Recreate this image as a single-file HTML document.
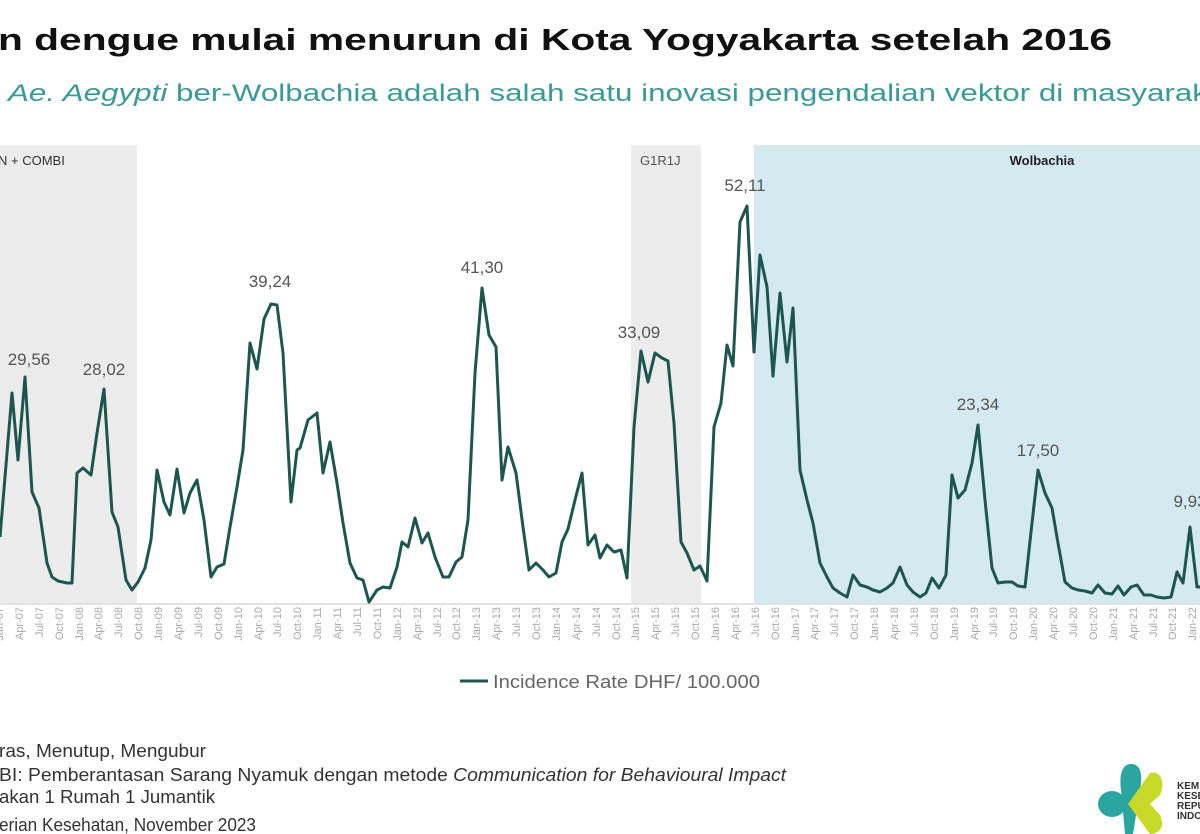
<!DOCTYPE html>
<html><head><meta charset="utf-8"><style>
html,body{margin:0;padding:0;background:#fff;width:1200px;height:834px;overflow:hidden}
svg{display:block;font-family:"Liberation Sans",sans-serif}
</style></head><body>
<svg width="1200" height="834" viewBox="0 0 1200 834" xmlns="http://www.w3.org/2000/svg">
<rect width="1200" height="834" fill="#fff"/>
<text x="-2" y="50" font-size="31" font-weight="bold" fill="#111" textLength="1114" lengthAdjust="spacingAndGlyphs">n dengue mulai menurun di Kota Yogyakarta setelah 2016</text>
<text x="8" y="101" font-size="24" fill="#3a9a98" textLength="1200" lengthAdjust="spacingAndGlyphs"><tspan font-style="italic">Ae. Aegypti</tspan> ber-Wolbachia adalah salah satu inovasi pengendalian vektor di masyarak</text>
<rect x="0" y="145" width="137" height="458" fill="#ececec"/>
<rect x="631" y="145" width="70" height="458" fill="#ececec"/>
<rect x="754" y="145" width="446" height="458" fill="#d5eaf0"/>
<line x1="0" y1="604" x2="1200" y2="604" stroke="#d8d8d8" stroke-width="1.5"/>
<text x="-2" y="165" font-size="13" fill="#333">N + COMBI</text>
<text x="640" y="165" font-size="13" fill="#555">G1R1J</text>
<text x="1042" y="165" font-size="13" font-weight="bold" fill="#222" text-anchor="middle">Wolbachia</text>
<polyline fill="none" stroke="#1d5650" stroke-width="3" stroke-linejoin="round" points="0,537 12,393 18,460 25,377 32,492 39,508 47,563 52,577 58,581 67,583 72,583 77,473 83,468 91,475 97,433 104,389 112,512 118,527 126,580 132,590 138,582 145,568 151,540 157,470 164,502 170,515 177,469 184,513 190,493 197,480 204,520 211,577 217,567 224,564 230,527 237,487 243,450 250,343 257,369 264,319 271,304 277,305 283,353 291,502 297,450 300,448 308,420 317,413 323,473 330,442 337,483 343,523 350,563 357,578 363,580 369,602 377,590 383,587 390,588 397,567 402,542 408,547 415,518 422,543 428,533 435,557 443,577 449,577 456,562 462,557 468,520 475,373 482,288 489,335 496,347 502,480 508,447 516,473 523,527 529,570 536,563 543,570 549,577 556,573 562,542 568,529 575,500 582,473 588,545 595,535 600,558 607,545 614,552 621,550 627,578 634,427 641,351 648,382 655,353 662,358 668,361 674,423 681,542 687,553 694,570 700,566 707,581 714,427 721,403 727,345 733,366 740,222 747,206 754,352 760,255 767,287 773,376 780,293 787,362 793,308 800,470 807,500 813,523 820,563 827,577 833,588 840,593 847,597 853,575 860,585 867,587 873,590 880,592 887,588 893,583 900,567 907,585 913,592 920,597 926,593 932,578 939,588 946,575 952,475 958,498 965,490 972,463 978,425 985,500 992,568 998,583 1005,582 1012,582 1018,586 1025,587 1032,523 1038,470 1045,493 1052,508 1058,543 1065,582 1072,588 1078,590 1085,591 1092,593 1098,585 1105,593 1112,594 1118,586 1124,595 1131,587 1137,585 1144,595 1151,595 1157,597 1164,598 1171,597 1177,572 1183,583 1190,527 1197,587 1200,587"/>
<g font-size="17" fill="#555" text-anchor="middle">
<text x="29" y="365">29,56</text><text x="104" y="375">28,02</text><text x="270" y="287">39,24</text><text x="482" y="273">41,30</text><text x="639" y="338">33,09</text><text x="745" y="191">52,11</text><text x="978" y="410">23,34</text><text x="1038" y="456">17,50</text><text x="1190" y="507">9,93</text>
</g>
<g font-size="11" fill="#a8a8a8" text-anchor="end">
<text transform="translate(3,607) rotate(-90)">Jan-07</text><text transform="translate(23,607) rotate(-90)">Apr-07</text><text transform="translate(43,607) rotate(-90)">Jul-07</text><text transform="translate(63,607) rotate(-90)">Oct-07</text><text transform="translate(83,607) rotate(-90)">Jan-08</text><text transform="translate(102,607) rotate(-90)">Apr-08</text><text transform="translate(122,607) rotate(-90)">Jul-08</text><text transform="translate(142,607) rotate(-90)">Oct-08</text><text transform="translate(162,607) rotate(-90)">Jan-09</text><text transform="translate(182,607) rotate(-90)">Apr-09</text><text transform="translate(202,607) rotate(-90)">Jul-09</text><text transform="translate(222,607) rotate(-90)">Oct-09</text><text transform="translate(242,607) rotate(-90)">Jan-10</text><text transform="translate(262,607) rotate(-90)">Apr-10</text><text transform="translate(281,607) rotate(-90)">Jul-10</text><text transform="translate(301,607) rotate(-90)">Oct-10</text><text transform="translate(321,607) rotate(-90)">Jan-11</text><text transform="translate(341,607) rotate(-90)">Apr-11</text><text transform="translate(361,607) rotate(-90)">Jul-11</text><text transform="translate(381,607) rotate(-90)">Oct-11</text><text transform="translate(401,607) rotate(-90)">Jan-12</text><text transform="translate(421,607) rotate(-90)">Apr-12</text><text transform="translate(441,607) rotate(-90)">Jul-12</text><text transform="translate(460,607) rotate(-90)">Oct-12</text><text transform="translate(480,607) rotate(-90)">Jan-13</text><text transform="translate(500,607) rotate(-90)">Apr-13</text><text transform="translate(520,607) rotate(-90)">Jul-13</text><text transform="translate(540,607) rotate(-90)">Oct-13</text><text transform="translate(560,607) rotate(-90)">Jan-14</text><text transform="translate(580,607) rotate(-90)">Apr-14</text><text transform="translate(600,607) rotate(-90)">Jul-14</text><text transform="translate(620,607) rotate(-90)">Oct-14</text><text transform="translate(639,607) rotate(-90)">Jan-15</text><text transform="translate(659,607) rotate(-90)">Apr-15</text><text transform="translate(679,607) rotate(-90)">Jul-15</text><text transform="translate(699,607) rotate(-90)">Oct-15</text><text transform="translate(719,607) rotate(-90)">Jan-16</text><text transform="translate(739,607) rotate(-90)">Apr-16</text><text transform="translate(759,607) rotate(-90)">Jul-16</text><text transform="translate(779,607) rotate(-90)">Oct-16</text><text transform="translate(799,607) rotate(-90)">Jan-17</text><text transform="translate(818,607) rotate(-90)">Apr-17</text><text transform="translate(838,607) rotate(-90)">Jul-17</text><text transform="translate(858,607) rotate(-90)">Oct-17</text><text transform="translate(878,607) rotate(-90)">Jan-18</text><text transform="translate(898,607) rotate(-90)">Apr-18</text><text transform="translate(918,607) rotate(-90)">Jul-18</text><text transform="translate(938,607) rotate(-90)">Oct-18</text><text transform="translate(958,607) rotate(-90)">Jan-19</text><text transform="translate(978,607) rotate(-90)">Apr-19</text><text transform="translate(997,607) rotate(-90)">Jul-19</text><text transform="translate(1017,607) rotate(-90)">Oct-19</text><text transform="translate(1037,607) rotate(-90)">Jan-20</text><text transform="translate(1057,607) rotate(-90)">Apr-20</text><text transform="translate(1077,607) rotate(-90)">Jul-20</text><text transform="translate(1097,607) rotate(-90)">Oct-20</text><text transform="translate(1117,607) rotate(-90)">Jan-21</text><text transform="translate(1137,607) rotate(-90)">Apr-21</text><text transform="translate(1157,607) rotate(-90)">Jul-21</text><text transform="translate(1176,607) rotate(-90)">Oct-21</text><text transform="translate(1196,607) rotate(-90)">Jan-22</text>
</g>
<line x1="460" y1="681" x2="488" y2="681" stroke="#1d5650" stroke-width="3"/>
<text x="493" y="688" font-size="18" fill="#666" textLength="267" lengthAdjust="spacingAndGlyphs">Incidence Rate DHF/ 100.000</text>
<g font-size="18" fill="#333">
<text x="-1" y="757" textLength="207" lengthAdjust="spacingAndGlyphs">ras, Menutup, Mengubur</text>
<text x="-1" y="781" textLength="787" lengthAdjust="spacingAndGlyphs">BI: Pemberantasan Sarang Nyamuk dengan metode <tspan font-style="italic">Communication for Behavioural Impact</tspan></text>
<text x="-1" y="803" textLength="216" lengthAdjust="spacingAndGlyphs">akan 1 Rumah 1 Jumantik</text>
<text x="-1" y="831" textLength="257" lengthAdjust="spacingAndGlyphs">erian Kesehatan, November 2023</text>
</g>
<ellipse cx="1112" cy="804" rx="14" ry="13" fill="#2aa5a0"/>
<path d="M1131,764 C1141,764 1143,775 1140,790 L1133,834 L1125,834 L1121,790 C1119,775 1122,764 1131,764Z" fill="#2aa5a0"/>
<path d="M1128,804 L1150,773 C1160,770 1166,782 1160,795 L1150,804 L1160,815 C1166,828 1158,834 1150,834 Z" fill="#c9d92a"/>
<g font-size="10" font-weight="bold" fill="#333">
<text x="1177" y="789">KEM</text><text x="1177" y="799">KESE</text><text x="1177" y="809">REPU</text><text x="1177" y="819">INDO</text>
</g>
</svg>
</body></html>
